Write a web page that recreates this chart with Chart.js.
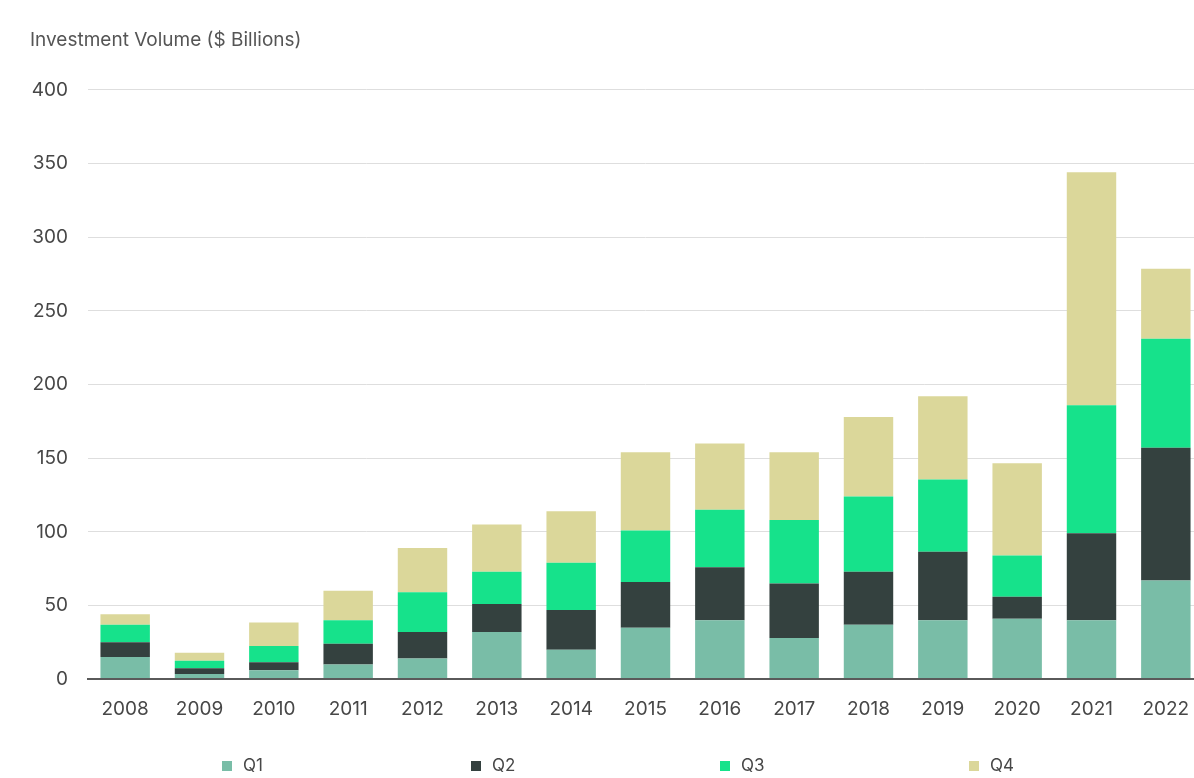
<!DOCTYPE html>
<html>
<head>
<meta charset="utf-8">
<title>Investment Volume</title>
<script src="https://cdn.jsdelivr.net/npm/chart.js@4.4.0/dist/chart.umd.min.js"></script>
<style>
  html, body { margin: 0; padding: 0; background: #ffffff; overflow: hidden; }
  #wrap { width: 1203px; height: 778px; }
</style>
</head>
<body>
<div id="wrap"><canvas id="volumeChart" width="1203" height="778"></canvas></div>
<script>
// yearly investment volume, split by quarter ($ billions)
const years = ['2008', '2009', '2010', '2011', '2012', '2013', '2014', '2015',
               '2016', '2017', '2018', '2019', '2020', '2021', '2022'];
const q1 = [15, 3.5, 6, 10, 14, 32, 20, 35, 40, 28, 37, 40, 41, 40, 67];
const q2 = [10, 4, 5.5, 14, 18, 19, 27, 31, 36, 37, 36, 46.5, 15, 59, 90];
const q3 = [12, 5, 11, 16, 27, 22, 32, 35, 39, 43, 51, 49, 28, 87, 74];
const q4 = [7, 5.5, 16, 20, 30, 32, 35, 53, 45, 46, 54, 56.5, 62.5, 158, 47.5];
const quarterNames = ['Q1', 'Q2', 'Q3', 'Q4'];
const quarterColors = ['#79bda7', '#34413f', '#16e28b', '#dbd79a'];
const yTicks = [0, 50, 100, 150, 200, 250, 300, 350, 400];

const fontFamily = 'Inter, "Noto Sans", sans-serif';

// legend row under the axis, boxes spread evenly
const legendLeft = 222;
const legendStep = 249;
const legendY = 766;

const bottomLegend = {
  id: 'bottomLegend',
  afterDraw(chart) {
    const ctx = chart.ctx;
    ctx.save();
    ctx.font = '17px ' + fontFamily;
    ctx.textBaseline = 'middle';
    ctx.textAlign = 'left';
    chart.data.datasets.forEach((ds, i) => {
      const x = legendLeft + i * legendStep;
      ctx.fillStyle = ds.backgroundColor;
      ctx.fillRect(x, legendY - 5, 10, 10);
      ctx.fillStyle = '#474747';
      ctx.fillText(ds.label, x + 21, legendY);
    });
    ctx.restore();
  }
};

const series = [q1, q2, q3, q4];

new Chart(document.getElementById('volumeChart'), {
  type: 'bar',
  data: {
    labels: years,
    datasets: series.map((values, i) => ({
      label: quarterNames[i],
      data: values,
      backgroundColor: quarterColors[i],
      borderWidth: 0,
      barPercentage: 0.665,
      categoryPercentage: 1
    }))
  },
  options: {
    responsive: false,
    animation: false,
    layout: { padding: { left: 30, right: 0, top: 0, bottom: 46 } },
    plugins: {
      legend: { display: false },
      tooltip: { enabled: false },
      title: {
        display: true,
        text: 'Investment Volume ($ Billions)',
        align: 'start',
        color: '#555555',
        font: { family: fontFamily, size: 19, weight: 'normal' },
        padding: { top: 29, bottom: 38 }
      }
    },
    scales: {
      x: {
        stacked: true,
        grid: { display: false },
        border: { display: true, color: '#5a5a5a', width: 2, z: 1 },
        ticks: {
          color: '#474747',
          padding: 11,
          font: { family: fontFamily, size: 19 }
        }
      },
      y: {
        stacked: true,
        min: 0,
        max: 400,
        afterFit(scale) { scale.width = 58; },
        afterBuildTicks(scale) { scale.ticks = yTicks.map(v => ({ value: v })); },
        grid: { color: '#dedede', lineWidth: 1, drawTicks: false },
        border: { display: false },
        ticks: {
          color: '#474747',
          padding: 20,
          font: { family: fontFamily, size: 19 }
        }
      }
    }
  },
  plugins: [bottomLegend]
});
</script>
</body>
</html>
